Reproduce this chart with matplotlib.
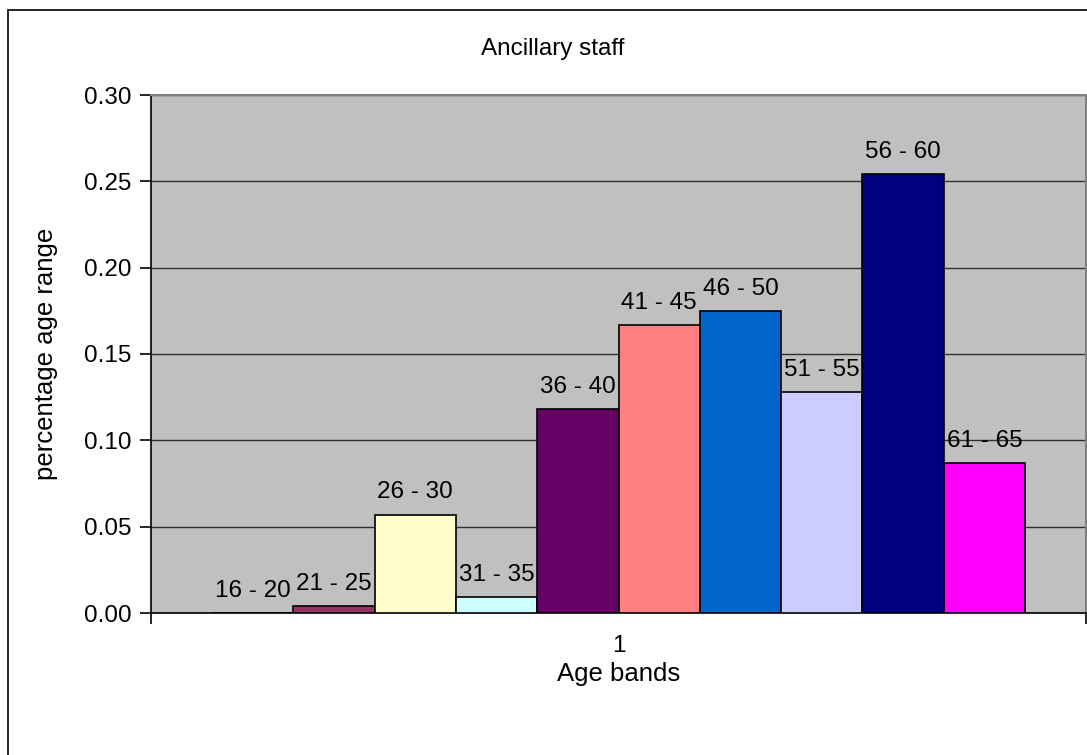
import matplotlib
matplotlib.use('Agg')
import matplotlib.pyplot as plt
from matplotlib.patches import Rectangle

plt.rcParams['font.family'] = ['Liberation Sans', 'DejaVu Sans']

bands = ['16 - 20', '21 - 25', '26 - 30', '31 - 35', '36 - 40',
         '41 - 45', '46 - 50', '51 - 55', '56 - 60', '61 - 65']
shares = [0.0, 0.004, 0.057, 0.009, 0.118, 0.167, 0.175, 0.128, 0.254, 0.087]
colors = ['#9999FF', '#993366', '#FFFFCC', '#CCFFFF', '#660066',
          '#FF8080', '#0066CC', '#CCCCFF', '#000080', '#FF00FF']
category = ['1']

W, H = 1087, 755
fig = plt.figure(figsize=(W / 100, H / 100), dpi=100)
ax = fig.add_axes([151 / W, 1 - 613 / H, 935 / W, 518 / H])

# chart area frame, running off the right and bottom edges
fig.patches.append(Rectangle((8 / W, -0.1), 1.2, 1 - 10 / H + 0.1,
                             transform=fig.transFigure, fill=False,
                             edgecolor='black', linewidth=1.2, clip_on=False))

n = len(bands)
w = 1 / (n + 1.5)
for i, (lab, val, c) in enumerate(zip(bands, shares, colors)):
    x = (i - (n - 1) / 2) * w
    ax.bar(x, val, width=w, color=c, edgecolor='black', linewidth=1.2, zorder=3)
    ax.annotate(lab, (x, val), xytext=(0, 8), textcoords='offset points',
                ha='center', va='bottom', fontsize=17.5, zorder=4)

ax.set_facecolor('#C0C0C0')
ax.set_xlim(-0.5, 0.5)
ax.set_ylim(0, 0.30)
ax.set_yticks([0, 0.05, 0.10, 0.15, 0.20, 0.25, 0.30])
ax.set_yticklabels(['%.2f' % v for v in ax.get_yticks()])
ax.yaxis.grid(True, color='#303030', linewidth=1.0, zorder=1)
ax.set_axisbelow(True)

ax.set_xticks([-0.5, 0.5])
ax.set_xticklabels(['', ''])
ax.set_xticks([0], labels=category, minor=True)
ax.tick_params(axis='x', which='minor', length=0, labelsize=17.5, pad=16)
ax.tick_params(axis='x', which='major', length=8, width=1.2, direction='out')
ax.tick_params(axis='y', length=8, width=1.2, direction='out', labelsize=17.5, pad=6)

for side in ['top', 'right']:
    ax.spines[side].set_color('#808080')
    ax.spines[side].set_linewidth(1.5)
for side in ['left', 'bottom']:
    ax.spines[side].set_color('black')
    ax.spines[side].set_linewidth(1.2)

ax.set_xlabel('Age bands', fontsize=18.5, va='center')
ax.xaxis.set_label_coords(0.5, (613 - 674) / 518)
ax.set_ylabel('percentage age range', fontsize=18.5, va='center')
ax.yaxis.set_label_coords((46 - 151) / 935, 0.5)
fig.text(553 / W, 1 - 49 / H, 'Ancillary staff', ha='center', va='center', fontsize=17.5)

fig.savefig('out.png', dpi=100)
